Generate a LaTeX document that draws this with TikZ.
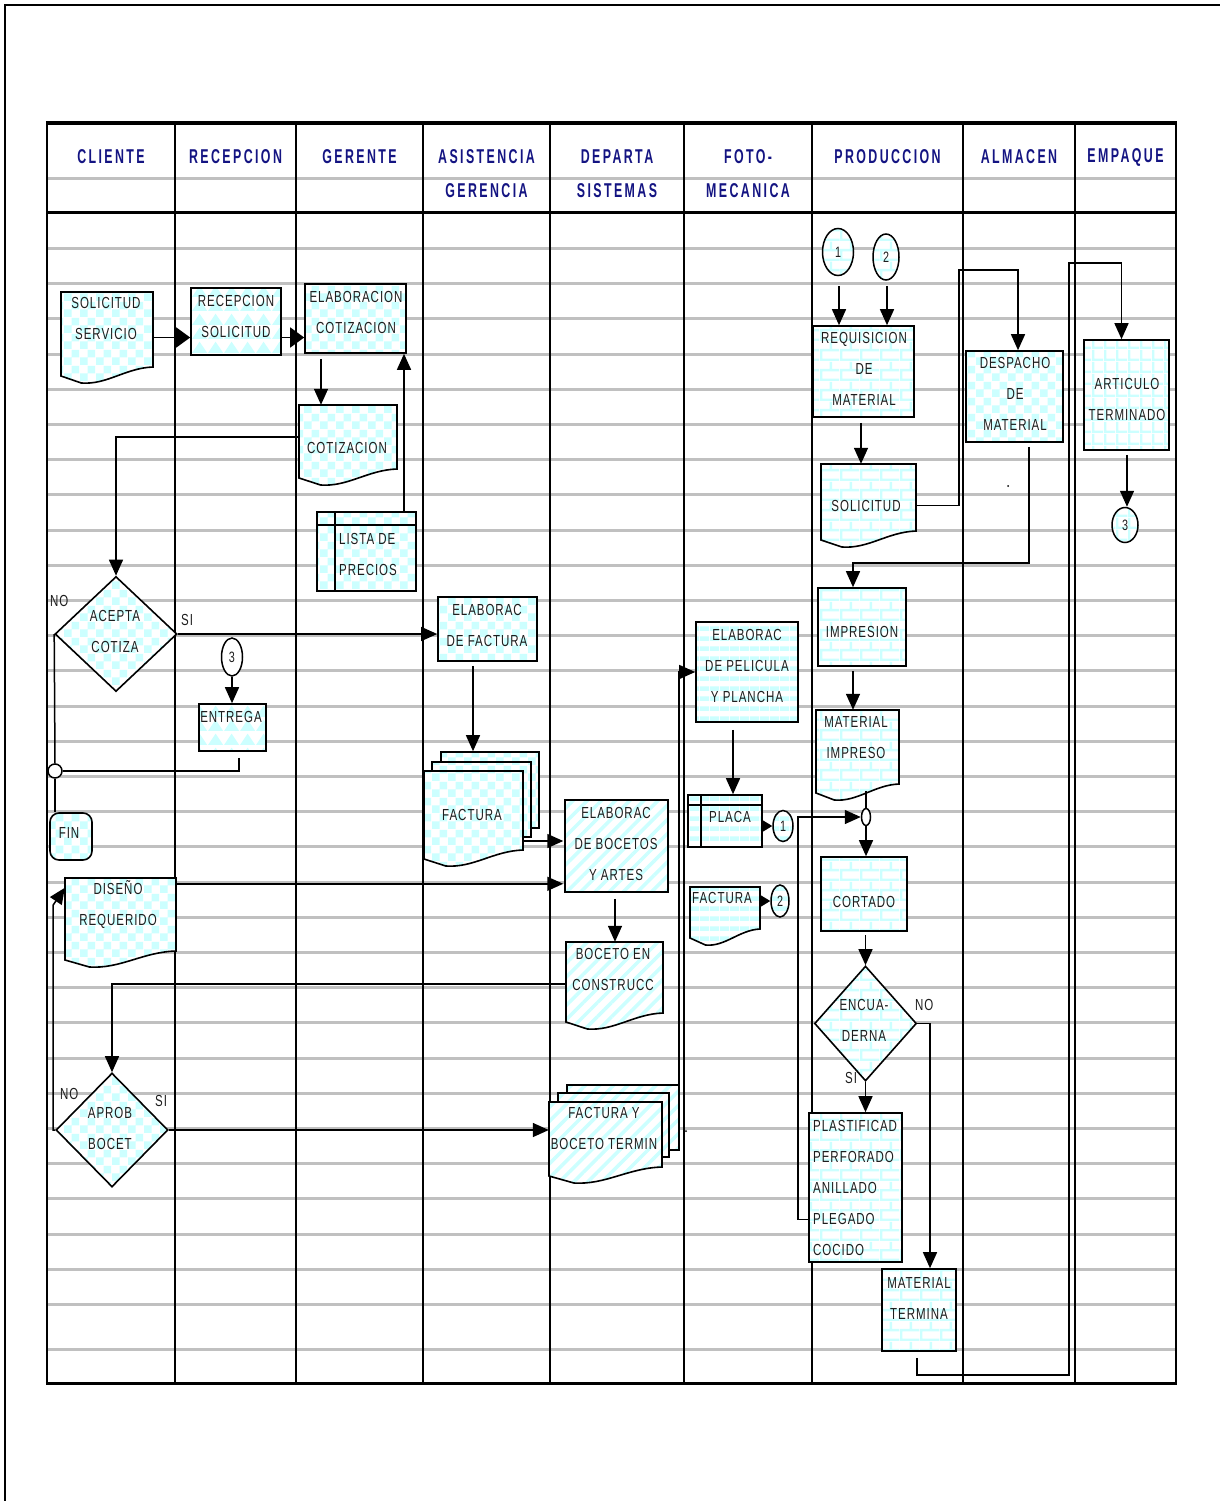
\documentclass[tikz,border=0pt]{standalone}
\usepackage{fontspec}
\setmainfont{Liberation Sans}
\newfontfamily\lblfont[FakeStretch=0.72,LetterSpace=6]{Liberation Sans}
\newfontfamily\hdrfont[FakeStretch=0.62,LetterSpace=12]{Liberation Sans}
\usetikzlibrary{shapes.geometric,arrows.meta,calc,patterns,patterns.meta}

\definecolor{pcyan}{RGB}{204,255,255}
\definecolor{rulegray}{RGB}{192,192,192}
\definecolor{hdrblue}{RGB}{20,20,130}
\definecolor{ink}{RGB}{30,30,30}

% fill patterns
\pgfdeclarepatternformonly{chk}{\pgfqpoint{0pt}{0pt}}{\pgfqpoint{16pt}{16pt}}{\pgfqpoint{16pt}{16pt}}{%
  \pgfpathrectangle{\pgfqpoint{0pt}{0pt}}{\pgfqpoint{8pt}{8pt}}%
  \pgfpathrectangle{\pgfqpoint{8pt}{8pt}}{\pgfqpoint{8pt}{8pt}}%
  \pgfusepath{fill}}
\pgfdeclarepatternformonly{brk}{\pgfqpoint{0pt}{0pt}}{\pgfqpoint{20pt}{20pt}}{\pgfqpoint{20pt}{20pt}}{%
  \pgfpathrectangle{\pgfqpoint{0pt}{0pt}}{\pgfqpoint{20pt}{2.5pt}}%
  \pgfpathrectangle{\pgfqpoint{0pt}{10pt}}{\pgfqpoint{20pt}{2.5pt}}%
  \pgfpathrectangle{\pgfqpoint{0pt}{0pt}}{\pgfqpoint{2.5pt}{10pt}}%
  \pgfpathrectangle{\pgfqpoint{10pt}{10pt}}{\pgfqpoint{2.5pt}{10pt}}%
  \pgfusepath{fill}}
\pgfdeclarepatternformonly{grd}{\pgfqpoint{0pt}{0pt}}{\pgfqpoint{12pt}{12pt}}{\pgfqpoint{12pt}{12pt}}{%
  \pgfpathrectangle{\pgfqpoint{0pt}{0pt}}{\pgfqpoint{12pt}{2.5pt}}%
  \pgfpathrectangle{\pgfqpoint{0pt}{0pt}}{\pgfqpoint{2.5pt}{12pt}}%
  \pgfusepath{fill}}
\pgfdeclarepatternformonly{hst}{\pgfqpoint{0pt}{0pt}}{\pgfqpoint{10pt}{10pt}}{\pgfqpoint{10pt}{10pt}}{%
  \pgfpathrectangle{\pgfqpoint{0pt}{0pt}}{\pgfqpoint{10pt}{5pt}}%
  \pgfusepath{fill}}
\pgfdeclarepatternformonly{zig}{\pgfqpoint{0pt}{0pt}}{\pgfqpoint{16pt}{14pt}}{\pgfqpoint{16pt}{14pt}}{%
  \pgfpathmoveto{\pgfqpoint{0pt}{0pt}}\pgfpathlineto{\pgfqpoint{16pt}{0pt}}%
  \pgfpathlineto{\pgfqpoint{8pt}{12pt}}\pgfpathclose
  \pgfusepath{fill}}

\tikzset{
  pchk/.style={preaction={fill=white},pattern=chk,pattern color=pcyan},
  pbrk/.style={preaction={fill=white},pattern=brk,pattern color=pcyan},
  pgrd/.style={preaction={fill=white},pattern=grd,pattern color=pcyan},
  phst/.style={preaction={fill=white},pattern=hst,pattern color=pcyan},
  pzig/.style={preaction={fill=white},pattern=zig,pattern color=pcyan},
  pdst/.style={preaction={fill=white},pattern={Lines[angle=45,distance=10pt,line width=3.5pt]},pattern color=pcyan},
  box/.style={draw=black,line width=1.6pt,inner sep=0pt},
  ell/.style={ellipse,draw=black,line width=1.5pt,inner sep=0pt,text=ink,
    font=\lblfont\fontsize{15pt}{18pt}\selectfont},
  txt/.style={font=\lblfont\fontsize{16pt}{31pt}\selectfont,text=ink,align=center,inner sep=0pt},
  hdr/.style={font=\hdrfont\bfseries\fontsize{20pt}{34pt}\selectfont,text=hdrblue,align=center,inner sep=0pt},
  con/.style={line width=1.5pt},
  arr/.style={line width=1.5pt,-{Triangle[length=16pt,width=14pt]}},
  arrw/.style={line width=1.5pt,-{Triangle[length=14pt,width=20pt]}},
  arrs/.style={line width=1.5pt,-{Triangle[length=11pt,width=13pt]}},
}

% rectangle process box: name, fill style, x1, y1, x2, y2
\newcommand\rectnode[6]{%
  \node[box,#2,minimum width={(#5-#3)*1pt},minimum height={(#6-#4)*1pt}]
    (#1) at ({(#3+#5)/2},{(#4+#6)/2}) {};}
% document box with a wavy lower edge: name, fill style, x1, y1, x2, y2
\newcommand\docnode[6]{%
  \path[#2,draw=black,line width=1.6pt] (#3,#4) -- (#5,#4) -- (#5,{#6-16})
    .. controls ({#5-0.3*(#5-#3)},{#6-15}) and ({#3+0.5*(#5-#3)},{#6+2}) ..
    ({#3+0.22*(#5-#3)},{#6}) -- (#3,{#6-7}) -- cycle;
  \node[inner sep=0pt,minimum width={(#5-#3)*1pt},minimum height={(#6-#4)*1pt}]
    (#1) at ({(#3+#5)/2},{(#4+#6)/2}) {};}

\begin{document}
\begin{tikzpicture}[x=1pt,y=-1pt]
\useasboundingbox (0,0) rectangle (1220,1501);

% page frame
\draw[line width=2.5pt] (5,1501) -- (5,5) -- (1220,5);

% ruled background lines
\foreach \k in {0,2,3,...,32}
  \draw[rulegray,line width=3pt] (47,{178+35.2*\k}) -- (1176,{178+35.2*\k});
\draw[rulegray,line width=3pt] (47,1349) -- (1176,1349);

% swimlane grid
\foreach \x in {175,296,423,550,684,812,963,1075}
  \draw[line width=2pt] (\x,123) -- (\x,1383);
\draw[line width=2.5pt] (47,123) -- (47,1383);
\draw[line width=2.5pt] (1176,123) -- (1176,1383);
\draw[line width=3.5pt] (45.75,123) -- (1177.25,123);
\draw[line width=3pt] (47,212) -- (1176,212);
\draw[line width=3pt] (45.75,1383) -- (1177.25,1383);

% lane headers
\node[hdr] (h1) at (111,157) {CLIENTE};
\node[hdr] (h2) at (235.5,157) {RECEPCION};
\node[hdr] (h3) at (359.5,157) {GERENTE};
\node[hdr] (h4) at (486.5,174) {ASISTENCIA\\GERENCIA};
\node[hdr] (h5) at (617,174) {DEPARTA\\SISTEMAS};
\node[hdr] (h6) at (748,174) {FOTO-\\MECANICA};
\node[hdr] (h7) at (887.5,157) {PRODUCCION};
\node[hdr] (h8) at (1019,157) {ALMACEN};
\node[hdr] (h9) at (1125.5,157) {EMPAQUE};

% ---- CLIENTE / RECEPCION / GERENTE
\docnode{solserv}{pchk}{61}{292}{153}{383}
\rectnode{recsol}{pzig}{191}{288}{281}{355}
\rectnode{elabcot}{pchk}{305}{284}{406}{353}
\docnode{cotiz}{pchk}{299}{405}{397}{485}
\rectnode{lista}{pchk}{317}{512}{416}{591}
\draw[line width=1.5pt] ($(lista.north west)+(0,14)$) -- ($(lista.north east)+(0,14)$);
\draw[line width=1.5pt] ($(lista.north west)+(19,0)$) -- ($(lista.south west)+(19,0)$);
\node[box,pchk,diamond,minimum width=122pt,minimum height=115pt] (acepta) at (116,634) {};
\node[ell,fill=white,minimum width=21pt,minimum height=38pt] (c3a) at (232,657) {3};
\rectnode{entrega}{pzig}{199}{704}{266}{751}
\node[circle,draw=black,line width=1.5pt,fill=white,minimum size=14pt,inner sep=0pt] (jn1) at (55,771) {};
\node[box,pchk,rounded corners=9pt,minimum width=42pt,minimum height=47pt] (fin) at (71,836.5) {};
\docnode{diseno}{pchk}{65}{878}{176}{967}
\node[box,pchk,diamond,minimum width=112pt,minimum height=114pt] (aprob) at (112,1130) {};

% ---- ASISTENCIA GERENCIA / SISTEMAS
\rectnode{elabfac}{pchk}{438}{597}{537}{661}
\rectnode{fac3}{pchk}{441}{752}{539}{828}
\rectnode{fac2}{pchk}{432}{762}{531}{837}
\docnode{fac}{pchk}{424}{771}{523}{866}
\rectnode{bocetos}{pdst}{565}{800}{668}{892}
\docnode{bocconst}{pdst}{566}{942}{663}{1029}
\rectnode{fyb3}{pdst}{567}{1085}{679}{1150}
\rectnode{fyb2}{pdst}{558}{1093}{669}{1157}
\docnode{fyb}{pdst}{549}{1102}{662}{1183}

% ---- FOTO-MECANICA
\rectnode{pelic}{phst}{696}{622}{798}{722}
\rectnode{placa}{phst}{688}{795}{762}{847}
\draw[line width=1.5pt] ($(placa.north west)+(0,11)$) -- ($(placa.north east)+(0,11)$);
\draw[line width=1.5pt] ($(placa.north west)+(14,0)$) -- ($(placa.south west)+(14,0)$);
\node[ell,phst,minimum width=20pt,minimum height=31pt] (c1a) at (783,826) {1};
\docnode{facfoto}{phst}{690}{887}{760}{945}
\node[ell,phst,minimum width=18pt,minimum height=32pt] (c2a) at (780,901) {2};

% ---- PRODUCCION
\node[ell,pbrk,minimum width=31pt,minimum height=47pt] (c1b) at (838,252) {1};
\node[ell,pbrk,minimum width=26pt,minimum height=46pt] (c2b) at (886,257) {2};
\rectnode{requis}{pbrk}{813}{326}{914}{417}
\docnode{solic}{pbrk}{821}{464}{916}{547}
\rectnode{impres}{pbrk}{818}{588}{906}{666}
\docnode{matimp}{pbrk}{816}{710}{899}{800}
\node[ell,fill=white,minimum width=9pt,minimum height=17pt] (jn2) at (866,817) {};
\rectnode{cortado}{pbrk}{821}{857}{907}{931}
\node[box,pbrk,diamond,minimum width=102pt,minimum height=115pt] (encua) at (865.5,1023.5) {};
\rectnode{plast}{pbrk}{809}{1113}{902}{1262}
\rectnode{matterm}{pbrk}{882}{1269}{956}{1351}

% ---- ALMACEN / EMPAQUE
\rectnode{despacho}{pchk}{966}{351}{1063}{442}
\rectnode{articulo}{pgrd}{1084}{340}{1169}{450}
\node[ell,pgrd,minimum width=26pt,minimum height=35pt] (c3b) at (1125,525) {3};
\node[circle,fill=black,inner sep=0pt,minimum size=2pt] (dot1) at (1008,486) {};
\node[circle,fill=black,inner sep=0pt,minimum size=2pt] (dot2) at (686,1131) {};

% ---- labels
\node[txt] (t01) at (106,318.5) {SOLICITUD\\SERVICIO};
\node[txt] (t02) at (236,316.5) {RECEPCION\\SOLICITUD};
\node[txt] (t03) at (356,312.5) {ELABORACION\\COTIZACION};
\node[txt] (t04) at (347,448) {COTIZACION};
\node[txt,align=left,anchor=west] (t05) at (339,554.5) {LISTA DE\\PRECIOS};
\node[txt] (t06) at (115,631.5) {ACEPTA\\COTIZA};
\node[txt,anchor=west] (t07) at (50,601) {NO};
\node[txt,anchor=west] (t08) at (181,620) {SI};
\node[txt] (t09) at (231,717) {ENTREGA};
\node[txt] (t10) at (69,833) {FIN};
\node[txt] (t11) at (118,904.5) {DISEÑO\\REQUERIDO};
\node[txt] (t12) at (110,1128.5) {APROB\\BOCET};
\node[txt,anchor=west] (t13) at (60,1094) {NO};
\node[txt,anchor=west] (t14) at (155,1101) {SI};
\node[txt] (t15) at (487,625.5) {ELABORAC\\DE FACTURA};
\node[txt] (t16) at (472,815) {FACTURA};
\node[txt] (t17) at (616,844) {ELABORAC\\DE BOCETOS\\Y ARTES};
\node[txt] (t18) at (613,969.5) {BOCETO EN\\CONSTRUCC};
\node[txt] (t19) at (604,1128.5) {FACTURA Y\\BOCETO TERMIN};
\node[txt] (t20) at (747,666) {ELABORAC\\DE PELICULA\\Y PLANCHA};
\node[txt] (t21) at (730,817) {PLACA};
\node[txt] (t22) at (722,898) {FACTURA};
\node[txt] (t23) at (864,369) {REQUISICION\\DE\\MATERIAL};
\node[txt] (t24) at (866,506) {SOLICITUD};
\node[txt] (t25) at (862,632) {IMPRESION};
\node[txt] (t26) at (856,737.5) {MATERIAL\\IMPRESO};
\node[txt] (t27) at (864,902) {CORTADO};
\node[txt] (t28) at (864,1020.5) {ENCUA-\\DERNA};
\node[txt,anchor=west] (t29) at (915,1005) {NO};
\node[txt,anchor=west] (t30) at (845,1078) {SI};
\node[txt,align=left,anchor=west] (t31) at (813,1187.5) {PLASTIFICAD\\PERFORADO\\ANILLADO\\PLEGADO\\COCIDO};
\node[txt] (t32) at (919,1298.5) {MATERIAL\\TERMINA};
\node[txt] (t33) at (1015,394) {DESPACHO\\DE\\MATERIAL};
\node[txt] (t34) at (1127,399.5) {ARTICULO\\TERMINADO};

% ---- connectors
\draw[arrw] (solserv.east) -- (solserv.east -| recsol.west);
\draw[arrw] (recsol.east |- solserv.east) -- (solserv.east -| elabcot.west);
\coordinate (k1) at ($(elabcot.south)+(-34.5,5)$);
\draw[arr] (k1) -- (k1 |- cotiz.north);
\coordinate (k2) at ($(lista.north)+(37.5,0)$);
\draw[arr] (k2) -- (k2 |- elabcot.south);
\coordinate (k3) at ($(cotiz.west)+(0,-8)$);
\draw[arr] (k3) -| (acepta.north);
\draw[arr] (acepta.east) -- (acepta.east -| elabfac.west);
\draw[con] (acepta.west) -- (jn1.north);
\draw[con] (jn1.south) -- (jn1.south |- fin.north);
\coordinate (k4) at ($(entrega.south)+(6.5,6)$);
\draw[con] (k4) |- (jn1.east);
\draw[arr] (c3a.south) -- (c3a.south |- entrega.north);
\coordinate (k5) at ($(elabfac.south)+(-14.5,4)$);
\draw[arr] (k5) -- (k5 |- fac3.north);
\coordinate (k6) at ($(fac.east)+(0,22.5)$);
\draw[arr] (k6) -- (k6 -| bocetos.west);
\coordinate (k7) at ($(diseno.north east)+(0,6)$);
\draw[arr] (k7) -- (k7 -| bocetos.west);
\coordinate (k8) at ($(bocetos.south)+(-1.5,5)$);
\draw[arr] (k8) -- (k8 |- bocconst.north);
\coordinate (k9) at ($(bocconst.west)+(0,-1.5)$);
\draw[arr] (k9) -| (aprob.north);
\draw[arr] (aprob.east) -- (aprob.east -| fyb.west);
\coordinate (k10) at ($(aprob.west)+(-2,-225)$);
\coordinate (k11) at ($(diseno.north west)+(0,10)$);
\draw[arr] (aprob.west) -- ++(-2,0) -- (k10) -- (k11);
\coordinate (k12) at ($(fyb3.north east)+(-1,0)$);
\draw[arr] (k12) |- (pelic.west);
\coordinate (k13) at ($(pelic.south)+(-14,7)$);
\draw[arr] (k13) -- (k13 |- placa.north);
\draw[arrs] (placa.east |- c1a.west) -- (c1a.west);
\draw[arrs] (facfoto.east |- c2a.west) -- (c2a.west);
\coordinate (k14) at ($(c1b.south)+(1,10)$);
\draw[arr] (k14) -- (k14 |- requis.north);
\coordinate (k15) at ($(c2b.south)+(1,5)$);
\draw[arr] (k15) -- (k15 |- requis.north);
\coordinate (k16) at ($(requis.south)+(-2.5,5)$);
\draw[arr] (k16) -- (k16 |- solic.north);
\coordinate (k17) at (959,270);
\draw[arr] (solic.east) -| (k17) -| ($(despacho.north)+(3.5,0)$);
\coordinate (k18) at ($(despacho.south)+(14.5,4)$);
\coordinate (k19) at (853,563);
\draw[arr] (k18) |- (k19) -- (k19 |- impres.north);
\coordinate (k20) at ($(impres.south)+(-9,4)$);
\draw[arr] (k20) -- (k20 |- matimp.north);
\draw[con] (jn2.north) -- ++(0,-17);
\draw[arr] (jn2.south) -- (jn2.south |- cortado.north);
\coordinate (k21) at ($(plast.west)+(0,32)$);
\draw[arr] (k21) -- ++(-10,0) |- (jn2.west);
\coordinate (k22) at ($(cortado.south)+(1.5,3)$);
\draw[arr] (k22) -- (k22 |- encua.north);
\draw[arr] (encua.south) -- (encua.south |- plast.north);
\coordinate (k23) at ($(matterm.north)+(11,0)$);
\draw[arr] (encua.east) -| (k23);
\coordinate (k24) at ($(matterm.south)+(-2,6)$);
\coordinate (k25) at (1069,1375);
\coordinate (k26) at (1069,263);
\draw[arr] (k24) |- (k25) -- (k26) -| ($(articulo.north)+(-5,0)$);
\coordinate (k27) at ($(articulo.south)+(0.5,4)$);
\draw[arr] (k27) -- (k27 |- c3b.north);
\end{tikzpicture}
\end{document}
